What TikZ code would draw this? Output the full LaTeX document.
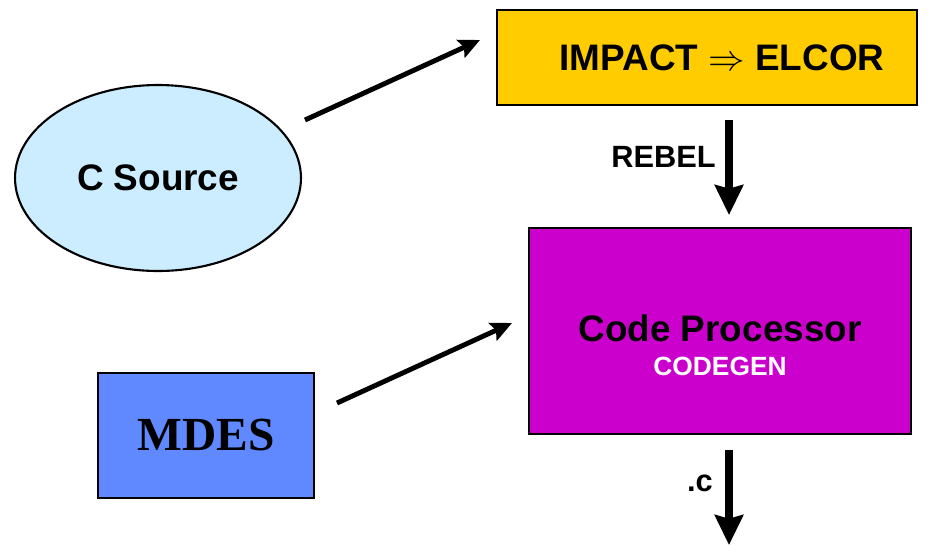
\documentclass[tikz,border=0pt]{standalone}
\usepackage{fontspec}
\setmainfont{Liberation Sans}
\newfontfamily\mdesfont{Liberation Serif}
\usetikzlibrary{arrows.meta,shapes.geometric}
\definecolor{impactyellow}{HTML}{FFCC00}
\definecolor{sourceblue}{HTML}{CCECFF}
\definecolor{procmagenta}{HTML}{CC00CC}
\definecolor{mdesblue}{HTML}{6088FF}
\begin{document}
\begin{tikzpicture}[x=0.02cm,y=-0.02cm,
	box/.style={draw=black,line width=1.2pt,inner sep=0pt},
	bigtext/.style={font=\bfseries\fontsize{21}{24}\selectfont},
	thinarrow/.style={line width=2.8pt,-{Stealth[length=12pt,width=11pt,inset=2pt]}},
	thickarrow/.style={line width=5pt,-{Stealth[length=17pt,width=16pt,inset=2pt]}},
	lbl/.style={font=\bfseries\fontsize{17.5}{20}\selectfont,inner sep=0pt,anchor=east}]
	\useasboundingbox (0,0) rectangle (928,545);

	\coordinate (src-out) at (305,120);
	\coordinate (impact-in) at (480,40);
	\coordinate (rebel-top) at (729,120);
	\coordinate (rebel-bot) at (729,215);
	\coordinate (mdes-out) at (337,403);
	\coordinate (proc-in) at (512,323);
	\coordinate (c-top) at (729,450);
	\coordinate (c-bot) at (729,545);

	\node [box, fill = impactyellow, minimum width = 8.4cm, minimum height = 1.9cm] (impact) at (707,57.5) {};
	\node [bigtext] (impact-title) at (722,57.5) {IMPACT $\Rightarrow$ ELCOR};
	\node [box, bigtext, ellipse, fill = sourceblue, minimum width = 5.72cm, minimum height = 3.72cm] (csrc) at (158,178) {C Source};
	\node [box, fill = procmagenta, minimum width = 7.64cm, minimum height = 4.12cm] (proc) at (720,331) {};
	\node [bigtext] (proc-title) at (720,328) {Code Processor};
	\node [font = \bfseries\fontsize{15}{18}\selectfont, text = white] (proc-sub) at (720,366) {CODEGEN};
	\node [box, fill = mdesblue, minimum width = 4.32cm, minimum height = 2.5cm, font = \mdesfont\bfseries\fontsize{27}{30}\selectfont] (mdes) at (206,435.5) {MDES};

	\draw [thinarrow] (src-out) -- (impact-in);
	\draw [thinarrow] (mdes-out) -- (proc-in);
	\draw [thickarrow] (rebel-top) -- (rebel-bot);
	\draw [thickarrow] (c-top) -- (c-bot);

	\node [lbl] (rebel) at (716,157) {REBEL};
	\node [lbl] (dotc) at (713,483) {.c};
\end{tikzpicture}
\end{document}
